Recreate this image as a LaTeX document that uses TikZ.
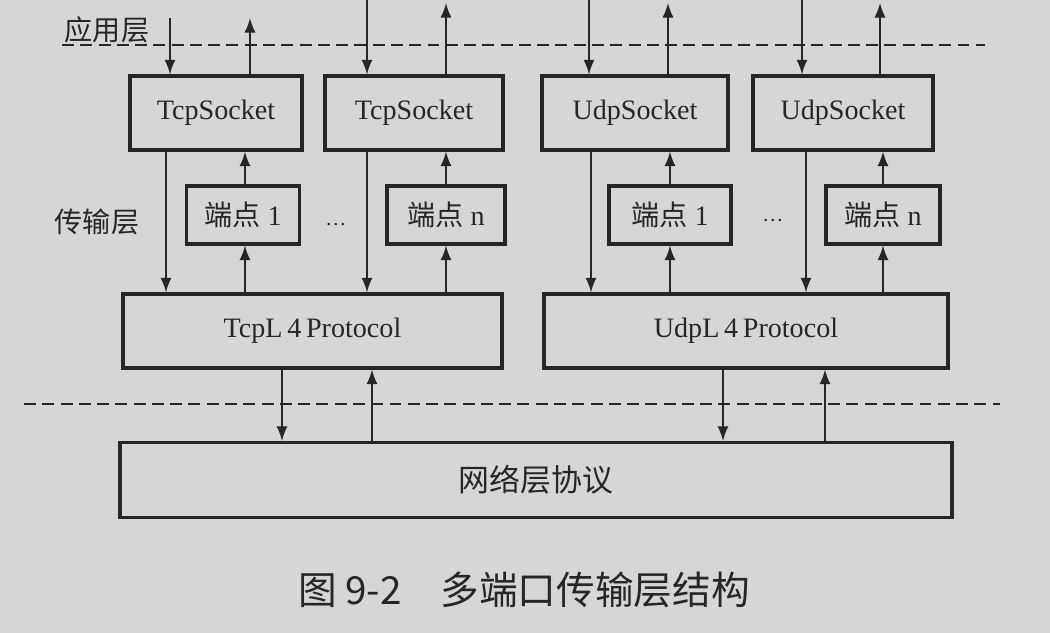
\documentclass[tikz,border=0pt]{standalone}
\usepackage{fontspec}
\setmainfont{Liberation Serif}
\newfontfamily\cjk{Noto Sans CJK SC}
\tikzset{
  box/.style={draw=black!85, line width=0.9pt, minimum height=0.74cm, inner sep=0pt, text=black!85, font=\fontsize{8}{9}\selectfont},
  port/.style={box, minimum height=0.58cm},
  arr/.style={-latex, draw=black!85, line width=0.45pt},
  layer/.style={draw=black!85, line width=0.5pt, dash pattern=on 3.4pt off 1.8pt},
  lbl/.style={text=black!85, font=\cjk\fontsize{8}{9}\selectfont},
}
\begin{document}
\begin{tikzpicture}

\fill[black!16] (0,0) rectangle (10.5,6.33);
\useasboundingbox (0,0) rectangle (10.5,6.33);

\node[lbl] (app) at (1.07,6.03) {应用层};
\node[lbl] (trans) at (0.97,4.11) {传输层};

\coordinate (l1a) at (0.62,5.88);
\coordinate (l1b) at (9.85,5.88);
\draw[layer] (l1a) -- (l1b);

\node[box, minimum width=1.72cm] (ts1) at (2.16,5.2) {TcpSocket};
\node[box, minimum width=1.78cm] (ts2) at (4.14,5.2) {TcpSocket};
\node[box, minimum width=1.86cm] (us1) at (6.35,5.2) {UdpSocket};
\node[box, minimum width=1.80cm] (us2) at (8.43,5.2) {UdpSocket};

\node[port, minimum width=1.13cm] (tp1) at (2.43,4.18) {{\cjk 端点}\ 1};
\node[port, minimum width=1.18cm] (tpn) at (4.46,4.18) {{\cjk 端点}\ n};
\node[port, minimum width=1.22cm] (up1) at (6.70,4.18) {{\cjk 端点}\ 1};
\node[port, minimum width=1.14cm] (upn) at (8.83,4.18) {{\cjk 端点}\ n};

\node[text=black!85, font=\fontsize{6}{7}\selectfont] (tdots) at (3.36,4.08) {\dots};
\node[text=black!85, font=\fontsize{6}{7}\selectfont] (udots) at (7.73,4.12) {\dots};

\node[box, minimum width=3.79cm] (tl4) at (3.125,3.02) {TcpL\,4\,Protocol};
\node[box, minimum width=4.04cm] (ul4) at (7.46,3.02) {UdpL\,4\,Protocol};

\coordinate (l2a) at (0.24,2.29);
\coordinate (l2b) at (10.0,2.29);
\draw[layer] (l2a) -- (l2b);

\node[box, minimum width=8.32cm, minimum height=0.75cm, font=\cjk\fontsize{8.8}{10}\selectfont] (net) at (5.36,1.53) {网络层协议};

\node[text=black!85, font=\cjk\fontsize{11}{13}\selectfont] (cap) at (5.24,0.43) {图 9-2\quad 多端口传输层结构};

\coordinate (ts1in) at (1.70,6.15);
\coordinate (ts1out) at (2.50,6.15);
\draw[arr] (ts1in) -- (ts1in |- ts1.north);
\draw[arr] (ts1out |- ts1.north) -- (ts1out);
\draw[arr] (1.66,0 |- ts1.south) -- (1.66,0 |- tl4.north);
\draw[arr] (2.45,0 |- tp1.north) -- (2.45,0 |- ts1.south);
\draw[arr] (2.45,0 |- tl4.north) -- (2.45,0 |- tp1.south);

\coordinate (ts2in) at (3.67,6.33);
\coordinate (ts2out) at (4.46,6.3);
\draw[arr] (ts2in) -- (ts2in |- ts2.north);
\draw[arr] (ts2out |- ts2.north) -- (ts2out);
\draw[arr] (3.67,0 |- ts2.south) -- (3.67,0 |- tl4.north);
\draw[arr] (4.46,0 |- tpn.north) -- (4.46,0 |- ts2.south);
\draw[arr] (4.46,0 |- tl4.north) -- (4.46,0 |- tpn.south);

\coordinate (us1in) at (5.89,6.33);
\coordinate (us1out) at (6.68,6.3);
\draw[arr] (us1in) -- (us1in |- us1.north);
\draw[arr] (us1out |- us1.north) -- (us1out);
\draw[arr] (5.91,0 |- us1.south) -- (5.91,0 |- ul4.north);
\draw[arr] (6.70,0 |- up1.north) -- (6.70,0 |- us1.south);
\draw[arr] (6.70,0 |- ul4.north) -- (6.70,0 |- up1.south);

\coordinate (us2in) at (8.02,6.33);
\coordinate (us2out) at (8.80,6.3);
\draw[arr] (us2in) -- (us2in |- us2.north);
\draw[arr] (us2out |- us2.north) -- (us2out);
\draw[arr] (8.06,0 |- us2.south) -- (8.06,0 |- ul4.north);
\draw[arr] (8.83,0 |- upn.north) -- (8.83,0 |- us2.south);
\draw[arr] (8.83,0 |- ul4.north) -- (8.83,0 |- upn.south);

\draw[arr] (2.82,0 |- tl4.south) -- (2.82,0 |- net.north);
\draw[arr] (3.72,0 |- net.north) -- (3.72,0 |- tl4.south);
\draw[arr] (7.23,0 |- ul4.south) -- (7.23,0 |- net.north);
\draw[arr] (8.25,0 |- net.north) -- (8.25,0 |- ul4.south);
\end{tikzpicture}
\end{document}
